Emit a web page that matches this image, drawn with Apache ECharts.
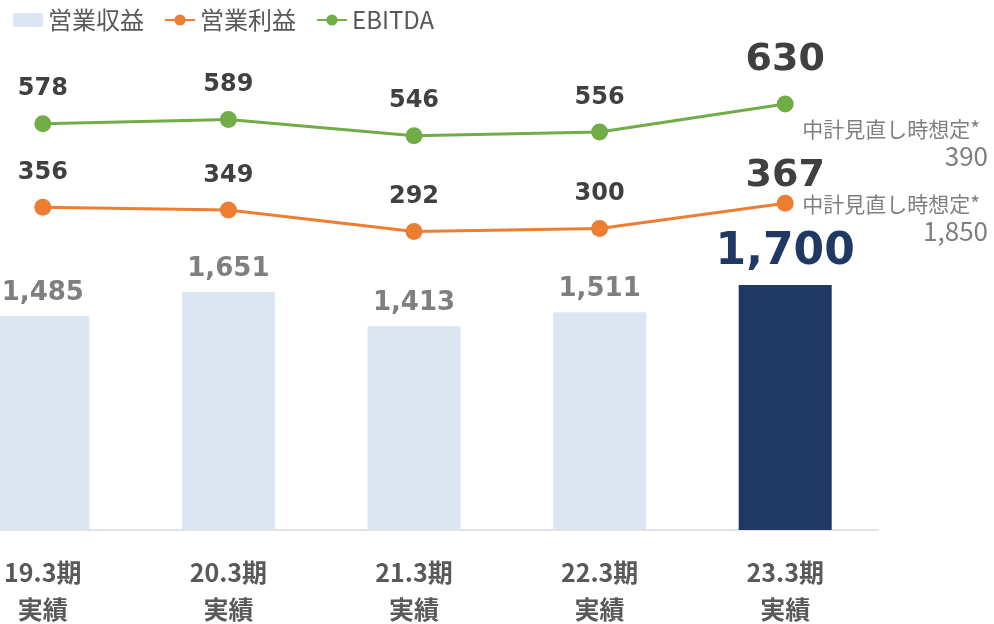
<!DOCTYPE html>
<html><head><meta charset="utf-8">
<script src="https://cdn.jsdelivr.net/npm/echarts@6/dist/echarts.min.js"></script>
<style>html,body{margin:0;padding:0;background:#fff}#c{width:994px;height:624px}</style>
</head><body><div id="c"></div>
<script>
const categories = ['19.3期\n実績','20.3期\n実績','21.3期\n実績','22.3期\n実績','23.3期\n実績'];
const revenue = [1485, 1651, 1413, 1511, 1700];
const opIncome = [356, 349, 292, 300, 367];
const ebitda = [578, 589, 546, 556, 630];
const seriesNames = ['営業収益','営業利益','EBITDA'];
const planNote = '中計見直し時想定*';
const planOpIncome = '390';
const planRevenue = '1,850';

const FONT = '"Noto Sans CJK JP", "Noto Sans", sans-serif';
const NUMFONT = 'Verdana, "DejaVu Sans", sans-serif';
const fmt = v => v.toLocaleString('en-US');
const last = revenue.length - 1;

const chart = echarts.init(document.getElementById('c'));
chart.setOption({
  animation: false,
  textStyle: {fontFamily: FONT},
  legend: {
    left: 8, top: 3, itemGap: 20, itemWidth: 30, itemHeight: 14,
    textStyle: {fontSize: 24, color: '#595959', fontFamily: FONT},
    data: [
      {name: seriesNames[0], icon: 'rect'},
      {name: seriesNames[1]},
      {name: seriesNames[2]}
    ]
  },
  grid: {left: -50, right: 116, top: 40, bottom: 94, containLabel: false, outerBoundsMode: 'none'},
  xAxis: {
    type: 'category', data: categories,
    axisLine: {lineStyle: {color: '#d9d9d9', width: 1.5}},
    axisTick: {show: false},
    axisLabel: {fontSize: 25, fontWeight: 'bold', color: '#595959', lineHeight: 37, margin: 24, fontFamily: FONT}
  },
  yAxis: [
    {type: 'value', min: 0, max: 3400, show: false, splitLine: {show: false}},
    {type: 'value', min: -500, max: 800, show: false, splitLine: {show: false}}
  ],
  series: [
    {
      name: seriesNames[0], type: 'bar', yAxisIndex: 0, barWidth: 93,
      itemStyle: {color: '#dce6f2'},
      data: revenue.map((v, i) => i === last ? {
        value: v, itemStyle: {color: '#1f3864'},
        label: {fontSize: 44, color: '#1f3864', distance: 10}
      } : v),
      label: {show: true, position: 'top', distance: 10, fontSize: 26, fontWeight: 'bold',
        color: '#7f7f7f', fontFamily: NUMFONT, formatter: p => fmt(p.value)}
    },
    {
      name: seriesNames[1], type: 'line', yAxisIndex: 1,
      symbol: 'circle', symbolSize: 17,
      lineStyle: {color: '#ed7d31', width: 3}, itemStyle: {color: '#ed7d31'},
      data: opIncome.map((v, i) => i === last ? {value: v, label: {fontSize: 38, distance: 0}} : v),
      label: {show: true, position: 'top', distance: 14, fontSize: 24, fontWeight: 'bold',
        color: '#404040', fontFamily: NUMFONT}
    },
    {
      name: seriesNames[2], type: 'line', yAxisIndex: 1,
      symbol: 'circle', symbolSize: 17,
      lineStyle: {color: '#70ad47', width: 3}, itemStyle: {color: '#70ad47'},
      data: ebitda.map((v, i) => i === last ? {value: v, label: {fontSize: 38, distance: 16}} : v),
      label: {show: true, position: 'top', distance: 14, fontSize: 24, fontWeight: 'bold',
        color: '#404040', fontFamily: NUMFONT}
    }
  ],
  graphic: [
    {type: 'text', right: 14, top: 119, style: {text: planNote, fontSize: 21, fill: '#7f7f7f', fontFamily: FONT}},
    {type: 'text', right: 6, top: 143, style: {text: planOpIncome, fontSize: 26, fill: '#7f7f7f', fontFamily: FONT}},
    {type: 'text', right: 14, top: 194, style: {text: planNote, fontSize: 21, fill: '#7f7f7f', fontFamily: FONT}},
    {type: 'text', right: 6, top: 218, style: {text: planRevenue, fontSize: 26, fill: '#7f7f7f', fontFamily: FONT}}
  ]
});
</script></body></html>
